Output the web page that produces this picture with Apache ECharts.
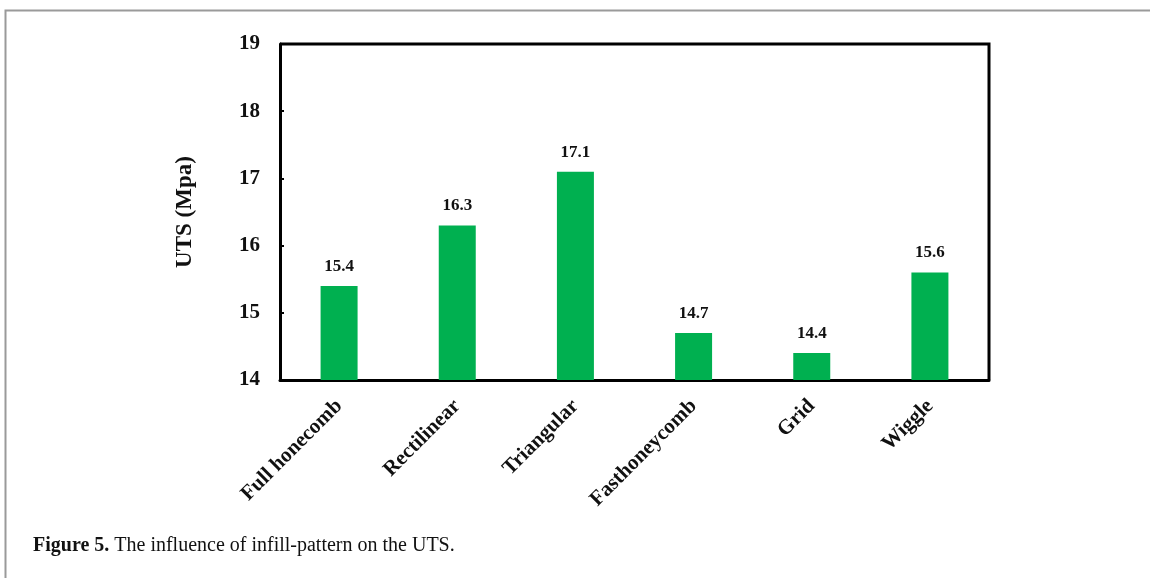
<!DOCTYPE html>
<html>
<head>
<meta charset="utf-8">
<script src="https://cdn.jsdelivr.net/npm/echarts@6/dist/echarts.min.js"></script>
<style>
html,body{margin:0;padding:0;background:#fff;}
#c{width:1150px;height:578px;}
</style>
</head>
<body>
<div id="c"></div>
<script>
const categories = ['Full honecomb', 'Rectilinear', 'Triangular', 'Fasthoneycomb', 'Grid', 'Wiggle'];
const utsValues = [15.4, 16.3, 17.1, 14.7, 14.4, 15.6];
const yTicks = [14, 15, 16, 17, 18, 19];

const serif = '"Liberation Serif", "Times New Roman", serif';
const chart = echarts.init(document.getElementById('c'), null, {renderer: 'canvas'});
chart.setOption({
  animation: false,
  backgroundColor: '#fff',
  grid: {left: 280, top: 44, width: 709, height: 336, show: false},
  xAxis: {
    type: 'category',
    data: categories,
    axisLine: {show: true, lineStyle: {color: '#000', width: 3}},
    axisTick: {show: false},
    axisLabel: {
      rotate: 45, interval: 0, margin: 23,
      fontFamily: serif, fontWeight: 'bold', fontSize: 21, color: '#111'
    }
  },
  yAxis: {
    type: 'value',
    min: yTicks[0], max: yTicks[yTicks.length - 1], interval: 1,
    name: 'UTS (Mpa)',
    nameLocation: 'middle', nameGap: 83, nameRotate: 90,
    nameTextStyle: {fontFamily: serif, fontWeight: 'bold', fontSize: 23, color: '#111'},
    axisLine: {show: true, lineStyle: {color: '#000', width: 3}},
    axisTick: {show: true, inside: true, length: 4, lineStyle: {color: '#000', width: 2}},
    splitLine: {show: false},
    axisLabel: {fontFamily: serif, fontWeight: 'bold', fontSize: 21, color: '#111', margin: 20}
  },
  series: [
    {
      type: 'bar',
      data: utsValues,
      barWidth: 37,
      itemStyle: {color: '#00B050'},
      label: {
        show: true, position: 'top', distance: 11,
        fontFamily: serif, fontWeight: 'bold', fontSize: 17, color: '#111',
        formatter: p => p.value.toFixed(1)
      }
    }
  ],
  graphic: [
    {type: 'rect', shape: {x: 5.5, y: 10.5, width: 1200, height: 700}, style: {fill: 'none', stroke: '#9a9a9a', lineWidth: 2}, silent: true},
    {type: 'polyline', shape: {points: [[280, 44], [989, 44], [989, 380]]}, style: {fill: 'none', stroke: '#000', lineWidth: 3}, silent: true},
    {
      type: 'text', left: 33, top: 536,
      style: {
        text: '{b|Figure 5.} The influence of infill-pattern on the UTS.',
        fontFamily: serif, fontSize: 20, fill: '#111',
        rich: {b: {fontFamily: serif, fontSize: 20, fontWeight: 'bold', fill: '#111'}}
      }
    }
  ]
});
</script>
</body>
</html>
